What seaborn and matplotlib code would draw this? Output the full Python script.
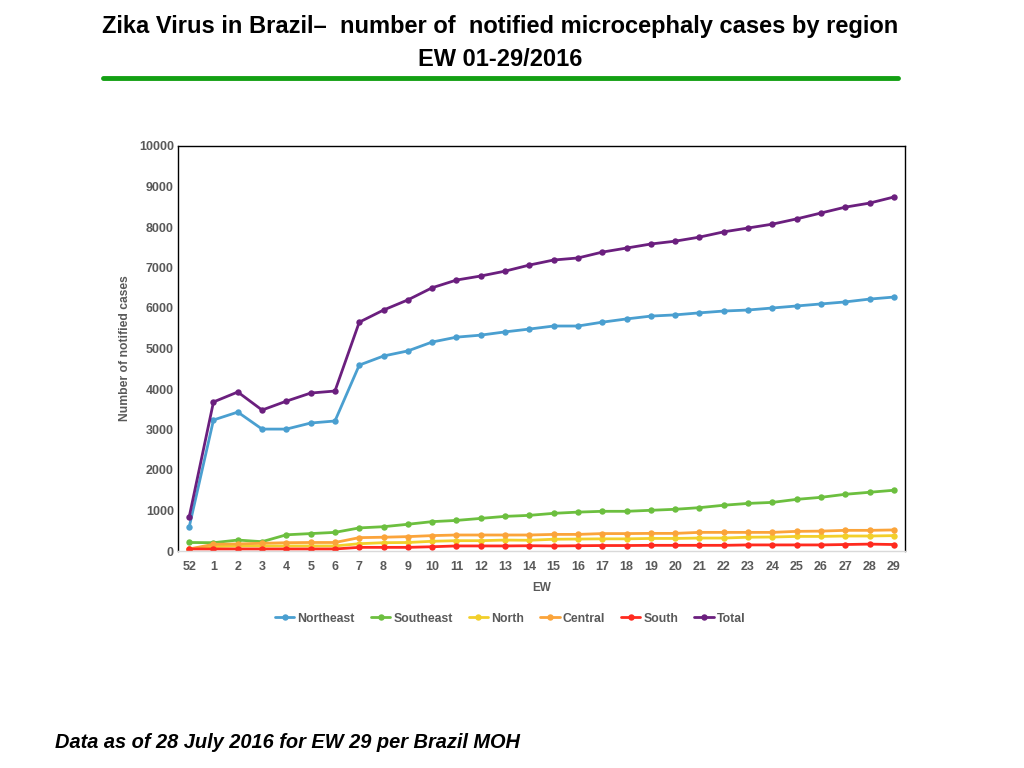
import matplotlib
matplotlib.use("Agg")
import matplotlib.pyplot as plt
import seaborn as sns
import pandas as pd

weeks = ["52"] + [str(i) for i in range(1, 30)]

northeast = [590, 3235, 3430, 3010, 3010, 3160, 3210, 4590, 4815, 4940, 5160, 5280, 5330, 5410, 5480,
             5555, 5555, 5650, 5730, 5800, 5830, 5880, 5925, 5950, 6000, 6050, 6100, 6150, 6220, 6270]
southeast = [210, 205, 270, 230, 400, 430, 460, 570, 600, 660, 725, 755, 805, 855, 880,
             930, 960, 980, 980, 1005, 1030, 1070, 1130, 1175, 1200, 1275, 1325, 1400, 1450, 1500]
north = [50, 110, 125, 125, 125, 125, 125, 180, 205, 210, 240, 255, 255, 270, 265,
         290, 295, 300, 300, 310, 310, 320, 320, 340, 345, 360, 360, 370, 370, 380]
central = [50, 165, 175, 190, 205, 210, 210, 330, 340, 355, 380, 395, 395, 395, 395,
           410, 410, 430, 430, 435, 435, 460, 460, 460, 460, 485, 491, 510, 510, 520]
south = [50, 50, 50, 50, 50, 50, 50, 90, 90, 90, 105, 125, 125, 125, 130,
         125, 130, 135, 135, 140, 140, 140, 140, 150, 150, 150, 150, 160, 170, 160]
total = [840, 3680, 3926, 3480, 3700, 3900, 3950, 5650, 5950, 6200, 6500, 6690, 6790, 6910, 7060,
         7185, 7235, 7380, 7480, 7580, 7650, 7750, 7880, 7975, 8070, 8200, 8345, 8490, 8590, 8740]

series_names = ["Northeast", "Southeast", "North", "Central", "South", "Total"]
series_values = [northeast, southeast, north, central, south, total]
colors = ["#4A9FD0", "#6CBF3F", "#F2CF2A", "#FBA43A", "#FF2A1F", "#6B1F7E"]

rows = []
for name, vals in zip(series_names, series_values):
    for i, v in enumerate(vals):
        rows.append({"pos": i, "EW": weeks[i], "cases": v, "Region": name})
df = pd.DataFrame(rows)

sns.set_theme(style="white")
plt.rcParams["font.family"] = ["Liberation Sans", "DejaVu Sans"]

fig = plt.figure(figsize=(10.24, 7.68), dpi=100)
ax = fig.add_axes([178 / 1024, 1 - 551 / 768, (905 - 178) / 1024, (551 - 146) / 768])

sns.lineplot(data=df, x="pos", y="cases", hue="Region", hue_order=series_names,
             palette=colors, marker="o", markersize=4.6, markeredgewidth=0,
             linewidth=2, ax=ax, legend=True)

ax.set_xlim(-0.46, 29.46)
ax.set_ylim(0, 10000)
ax.set_xticks(range(len(weeks)))
ax.set_xticklabels(weeks)
ax.set_yticks(range(0, 10001, 1000))
gray = "#595959"
ax.tick_params(axis="x", labelsize=9, colors=gray, length=0, pad=7)
ax.tick_params(axis="y", labelsize=9, colors=gray, length=0, pad=3)
for lbl in ax.get_xticklabels() + ax.get_yticklabels():
    lbl.set_fontweight("bold")
ax.set_xlabel("EW", fontsize=8.5, fontweight="bold", color=gray, labelpad=7)
ax.set_ylabel("Number of notified cases", fontsize=8.7, fontweight="bold", color=gray, labelpad=6)

for s in ["left", "top", "right"]:
    ax.spines[s].set_color("black")
    ax.spines[s].set_linewidth(1)
ax.spines["bottom"].set_color("#D9D9D9")
ax.spines["bottom"].set_linewidth(1)
ax.grid(False)

leg = ax.legend(loc="upper center", bbox_to_anchor=(0.457, -0.125), ncol=6, frameon=False,
                prop={"size": 8.8, "weight": "bold"}, handlelength=1.6,
                handletextpad=0.25, columnspacing=1.3)
for t in leg.get_texts():
    t.set_color(gray)

fig.text(500 / 1024, 1 - 26 / 768, "Zika Virus in Brazil\u2013  number of  notified microcephaly cases by region",
         ha="center", va="center", fontsize=17, fontweight="bold", color="black")
fig.text(500 / 1024, 1 - 59 / 768, "EW 01-29/2016", ha="center", va="center",
         fontsize=17, fontweight="bold", color="black")
fig.add_artist(plt.Line2D([103 / 1024, 898 / 1024], [1 - 78 / 768, 1 - 78 / 768],
                          color="#13A013", linewidth=3.5, transform=fig.transFigure))
fig.text(55 / 1024, 1 - 743 / 768, "Data as of 28 July 2016 for EW 29 per Brazil MOH",
         ha="left", va="center", fontsize=14.4, fontweight="bold", fontstyle="italic", color="black")

fig.savefig("out.png", dpi=100)
